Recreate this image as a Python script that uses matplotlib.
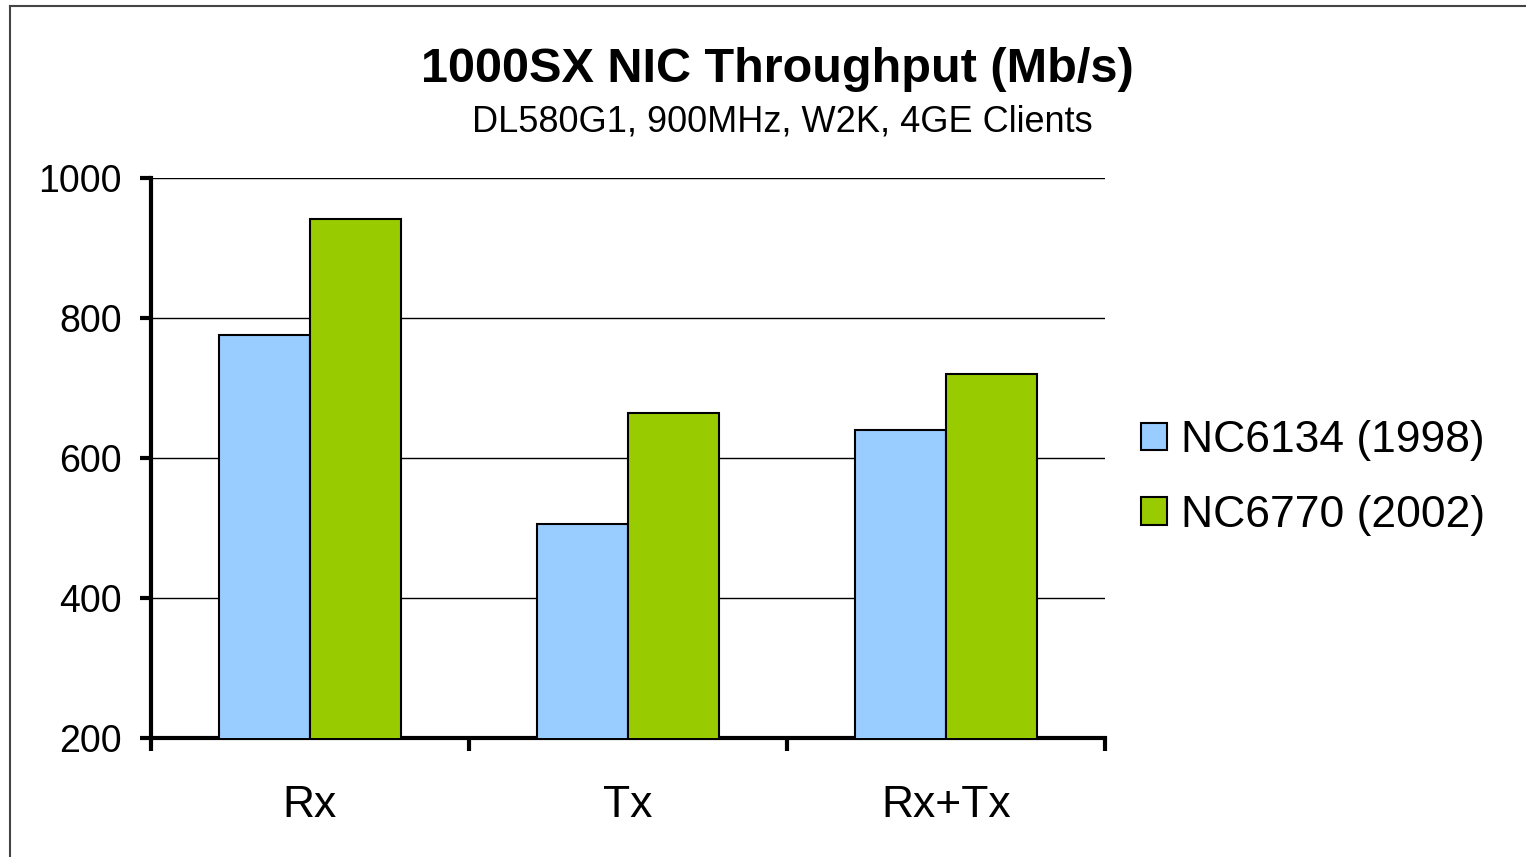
import matplotlib
matplotlib.use("Agg")
import matplotlib.pyplot as plt
import numpy as np
from matplotlib.lines import Line2D

categories = ["Rx", "Tx", "Rx+Tx"]
series_names = ["NC6134 (1998)", "NC6770 (2002)"]
nc6134 = [776, 506, 640]
nc6770 = [941, 664, 720]
yticks = [200, 400, 600, 800, 1000]
colors = ["#99CCFF", "#99CC00"]

plt.rcParams['font.family'] = ['Liberation Sans', 'DejaVu Sans']

fig = plt.figure(figsize=(15.26, 8.57), dpi=100)
ax = fig.add_axes([151/1526, 1-738/857, (1105-151)/1526, (738-178)/857])

x = np.arange(len(categories))
w = 0.285
ax.bar(x - w/2, nc6134, width=w, color=colors[0], edgecolor="black", linewidth=1.5,
       label=series_names[0], zorder=3)
ax.bar(x + w/2, nc6770, width=w, color=colors[1], edgecolor="black", linewidth=1.5,
       label=series_names[1], zorder=3)

ax.set_xlim(-0.5, len(categories) - 0.5)
ax.set_ylim(200, 1000)
ax.set_yticks(yticks)
ax.set_yticklabels([str(v) for v in yticks], fontsize=27)
ax.tick_params(axis='y', direction='out', length=8, width=3, pad=13)
ax.yaxis.grid(True, color='black', linewidth=1.0, zorder=0)
ax.set_axisbelow(True)

ax.set_xticks(np.arange(len(categories) + 1) - 0.5)
ax.set_xticklabels([])
ax.tick_params(axis='x', which='major', direction='out', length=9, width=3)
ax.set_xticks(x, minor=True)
ax.set_xticklabels(categories, minor=True, fontsize=32)
ax.tick_params(axis='x', which='minor', length=0, pad=34)

for s in ['top', 'right']:
    ax.spines[s].set_visible(False)
for s in ['left', 'bottom']:
    ax.spines[s].set_linewidth(3)

fig.text(777/1526, 1-70/857, "1000SX NIC Throughput (Mb/s)", ha='center', va='center',
         fontsize=35, fontweight='bold')
fig.text(782/1526, 1-122/857, "DL580G1, 900MHz, W2K, 4GE Clients", ha='center', va='center',
         fontsize=26)

leg = fig.legend(loc='center left', bbox_to_anchor=(1101/1526, 1-478/857), frameon=False,
                 fontsize=32, handlelength=0.58, handleheight=0.58, handletextpad=0.33,
                 labelspacing=0.75)

fig.add_artist(Line2D([10/1526, 10/1526], [0, 1-6/857], transform=fig.transFigure,
                      color='#444444', linewidth=1.5))
fig.add_artist(Line2D([10/1526, 1], [1-6/857, 1-6/857], transform=fig.transFigure,
                      color='#444444', linewidth=1.5))

fig.savefig("out.png", dpi=100)
